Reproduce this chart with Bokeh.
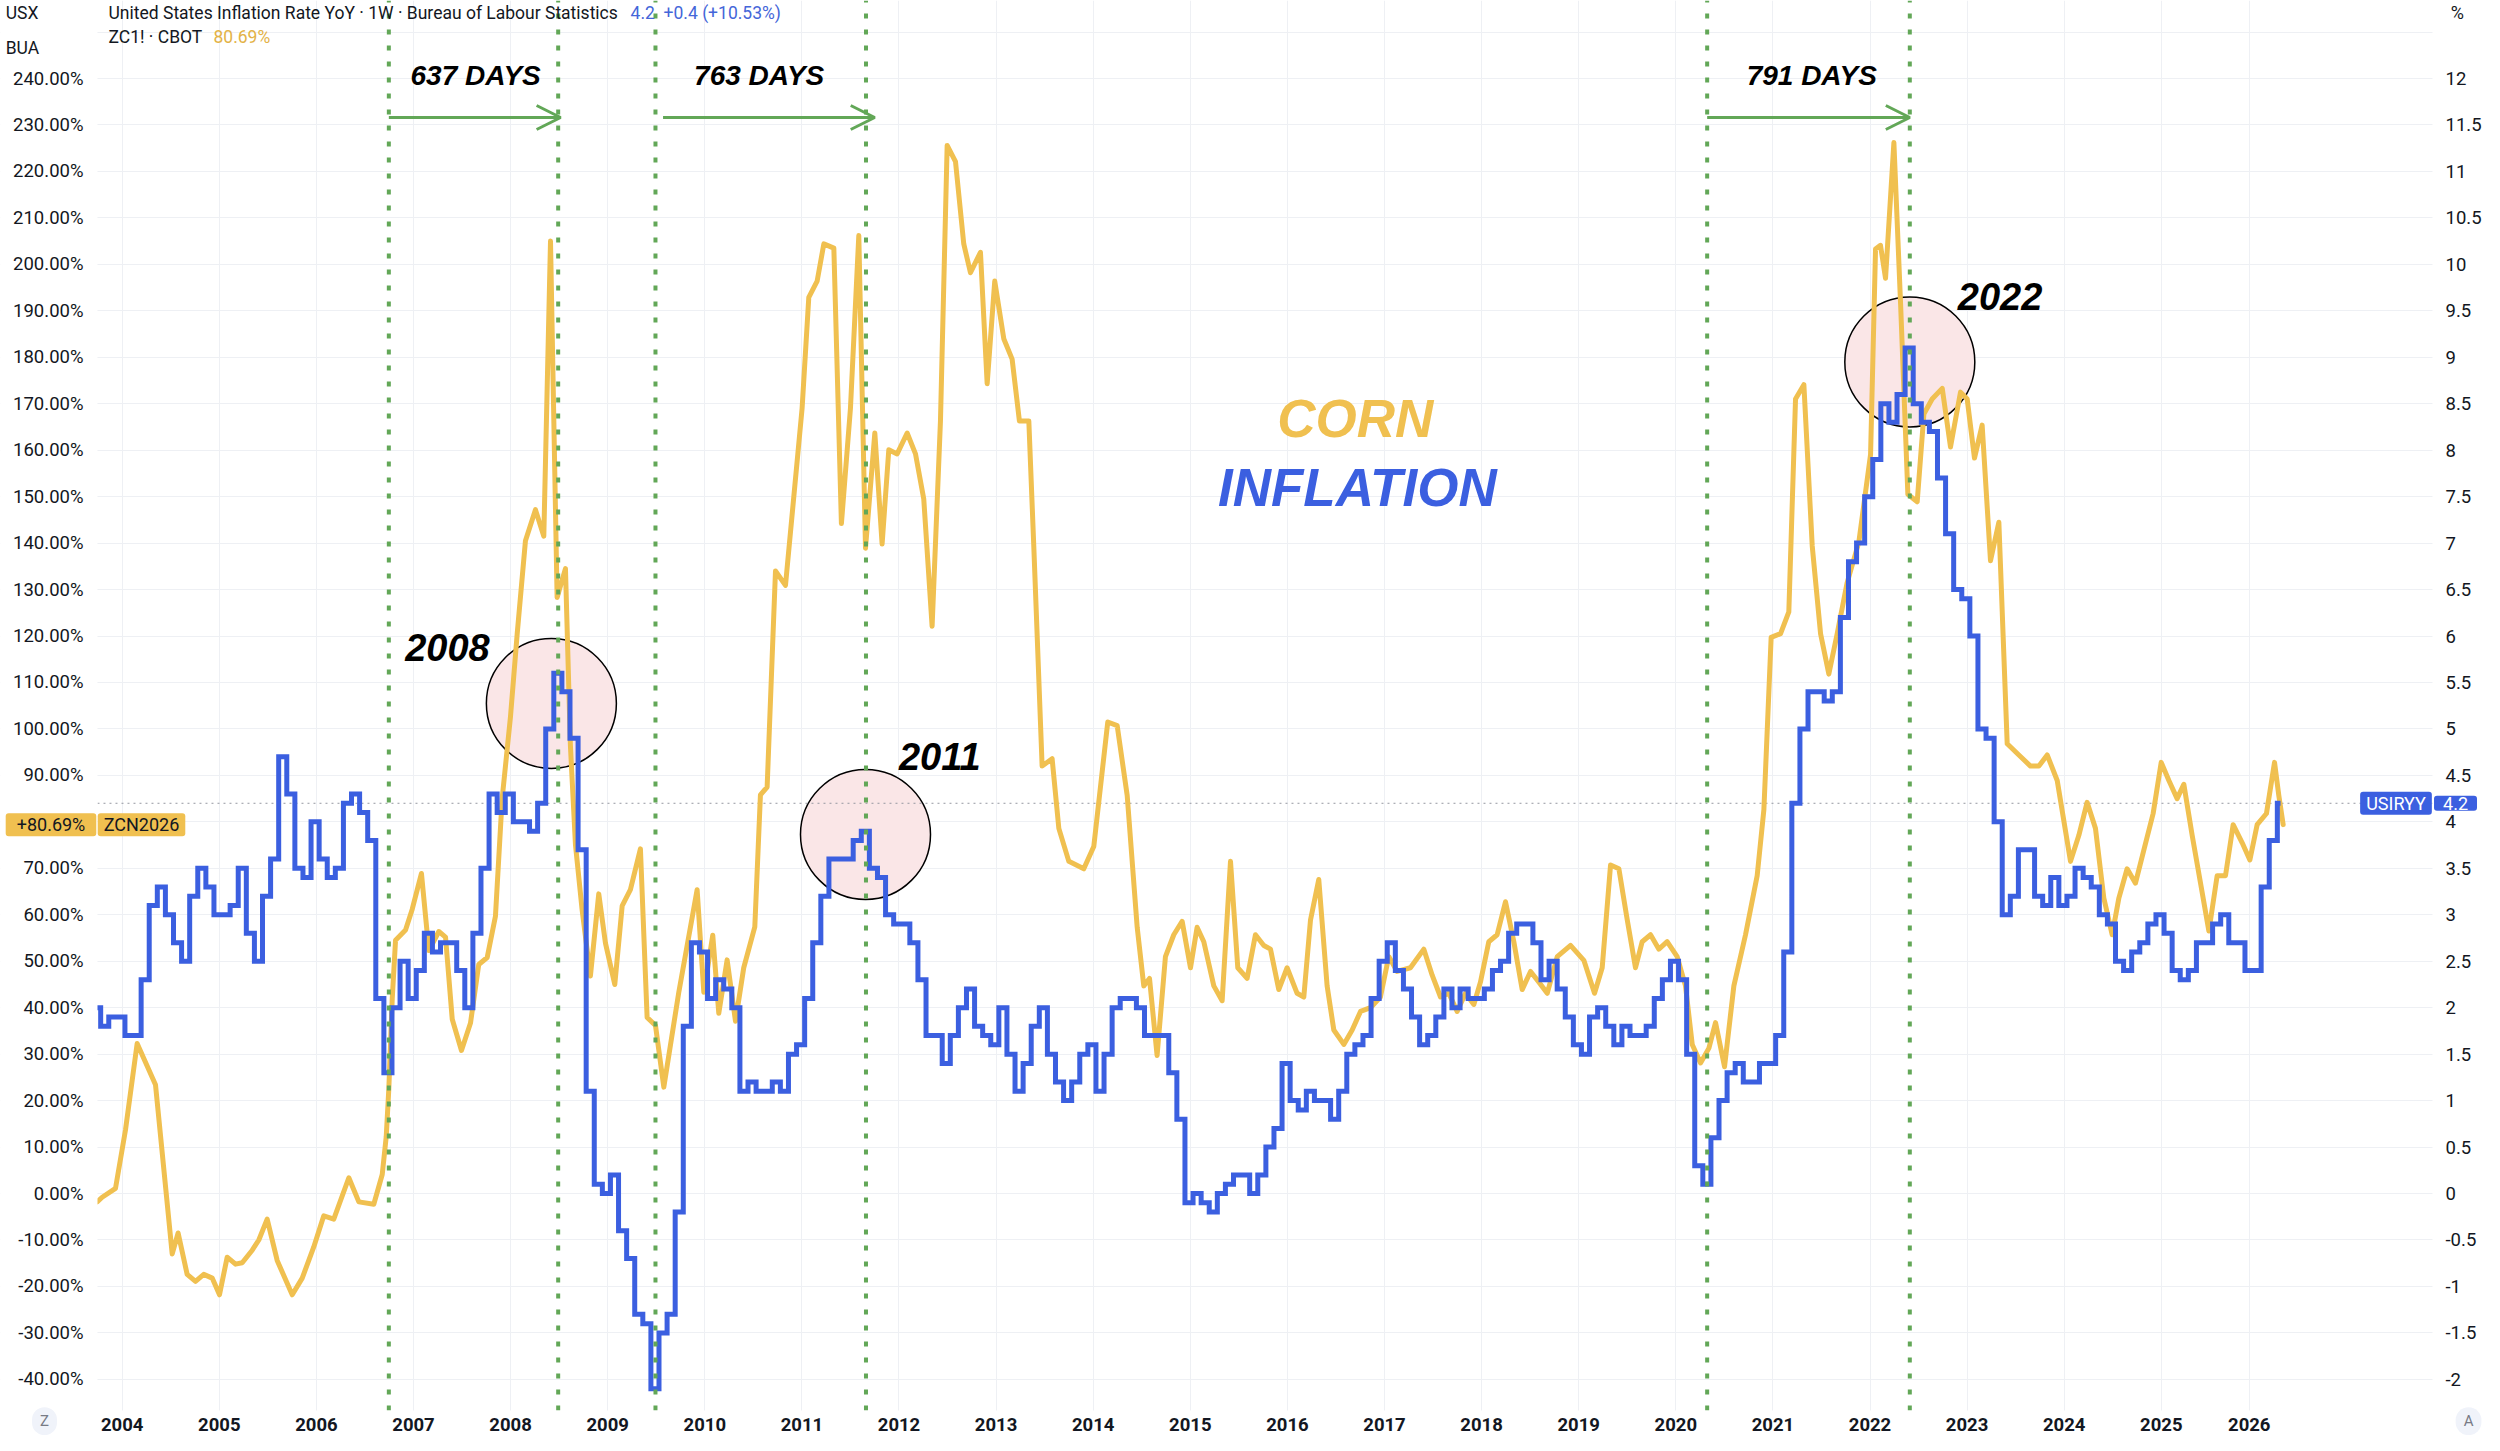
from bokeh.plotting import figure
from bokeh.models import (Range1d, LinearAxis, FixedTicker, CustomJSTickFormatter,
                          Label, Arrow, OpenHead, BoxAnnotation)
from bokeh.embed import file_html
from bokeh.resources import INLINE

# ---------------- data ----------------
# ZC1! (corn) percent change
corn_t = [2003.742, 2003.794, 2003.931, 2004.034, 2004.154, 2004.343, 2004.515, 2004.576, 2004.669, 2004.755,
          2004.840, 2004.927, 2005.002, 2005.081, 2005.167, 2005.236, 2005.339, 2005.407, 2005.493, 2005.596,
          2005.751, 2005.854, 2005.973, 2006.076, 2006.179, 2006.334, 2006.437, 2006.591, 2006.678, 2006.719,
          2006.746, 2006.781, 2006.815, 2006.918, 2006.987, 2007.082, 2007.158, 2007.261, 2007.330, 2007.399,
          2007.494, 2007.587, 2007.672, 2007.759, 2007.844, 2007.913, 2007.999, 2008.068, 2008.153, 2008.256,
          2008.342, 2008.411,
          2008.479, 2008.565, 2008.616, 2008.668, 2008.737, 2008.822, 2008.908, 2008.977, 2009.073, 2009.149,
          2009.234, 2009.337, 2009.406, 2009.492, 2009.578, 2009.732, 2009.921, 2009.990, 2010.082, 2010.144,
          2010.230, 2010.316, 2010.401, 2010.515, 2010.573, 2010.642, 2010.728, 2010.831, 2011.002, 2011.071,
          2011.157, 2011.226, 2011.329, 2011.407, 2011.500, 2011.586, 2011.655, 2011.751, 2011.826, 2011.895,
          2011.981, 2012.084, 2012.170, 2012.255, 2012.341, 2012.427, 2012.496, 2012.582, 2012.667, 2012.736,
          2012.839, 2012.908, 2012.986, 2013.079, 2013.165, 2013.240, 2013.337,
          2013.388, 2013.474, 2013.577, 2013.646, 2013.749, 2013.903, 2014.006, 2014.150, 2014.247, 2014.350,
          2014.453, 2014.521, 2014.580, 2014.658, 2014.744, 2014.830, 2014.916, 2015.002, 2015.070, 2015.139,
          2015.242, 2015.328, 2015.414, 2015.489, 2015.585, 2015.671, 2015.757, 2015.826, 2015.911, 2015.997,
          2016.100, 2016.169, 2016.238, 2016.323, 2016.409, 2016.478, 2016.581, 2016.667, 2016.753, 2016.856,
          2016.958, 2017.044, 2017.130, 2017.267, 2017.405, 2017.491, 2017.577, 2017.662, 2017.748, 2017.834,
          2017.920, 2017.988, 2018.074, 2018.160,
          2018.246, 2018.332, 2018.418, 2018.504, 2018.590, 2018.676, 2018.779, 2018.916, 2019.053, 2019.163,
          2019.242, 2019.328, 2019.414, 2019.500, 2019.585, 2019.654, 2019.740, 2019.826, 2019.911, 2020.014,
          2020.100, 2020.169, 2020.255, 2020.341, 2020.409, 2020.502, 2020.598, 2020.718, 2020.838, 2020.907,
          2020.982, 2021.079, 2021.164, 2021.233, 2021.319, 2021.405, 2021.491, 2021.576, 2021.662, 2021.765,
          2021.885, 2022.006, 2022.057, 2022.108, 2022.160, 2022.246, 2022.315, 2022.390, 2022.486, 2022.555,
          2022.640, 2022.744, 2022.829, 2022.932,
          2023.001, 2023.076, 2023.155, 2023.241, 2023.327, 2023.413, 2023.533, 2023.653, 2023.739, 2023.825,
          2023.928, 2024.065, 2024.151, 2024.236, 2024.322, 2024.408, 2024.494, 2024.563, 2024.648, 2024.734,
          2024.820, 2024.916, 2024.999, 2025.078, 2025.163, 2025.232, 2025.318, 2025.404, 2025.490, 2025.575,
          2025.661, 2025.740, 2025.833, 2025.912, 2025.987, 2026.083, 2026.166, 2026.210, 2026.255]
corn_pct = [-1.8, -0.8, 1.1, 13.7, 32.3, 23.4, -13.0, -8.5, -17.4, -18.9,
            -17.4, -18.2, -21.8, -13.7, -15.2, -14.9, -12.2, -10.0, -5.5, -14.4,
            -21.8, -18.2, -11.5, -4.8, -5.5, 3.4, -1.8, -2.3, 4.1, 12.2,
            22.6, 41.9, 54.5, 56.7, 61.2, 68.9, 52.3, 56.4, 55.2, 37.5,
            30.8, 36.7, 49.3, 50.8, 59.7, 85.0, 102.7, 120.5, 140.5, 147.2,
            141.5, 205.0,
            128.3, 134.5, 96.4, 75.1, 61.0, 46.8, 64.5, 53.9, 45.0, 61.9,
            65.4, 74.2, 37.9, 36.2, 22.9, 43.3, 65.4, 43.3, 55.6, 38.8,
            50.3, 37.1, 48.6, 57.4, 85.8, 87.5, 134.0, 130.9, 169.0, 192.9,
            196.4, 204.4, 203.5, 144.2, 169.0, 206.2, 138.9, 163.7, 139.8, 160.1,
            159.2, 163.7, 159.2, 149.5, 122.1, 166.3, 225.6, 222.1, 204.4, 198.2,
            202.6, 174.3, 196.4, 184.0, 179.6, 166.3, 166.3,
            139.4, 92.0, 93.6, 78.6, 71.5, 69.9, 74.7, 101.5, 100.7, 85.7,
            57.3, 44.7, 46.3, 29.7, 51.0, 55.7, 58.6, 48.6, 57.3, 54.2,
            44.7, 41.5, 71.5, 48.6, 46.3, 55.7, 53.4, 52.6, 43.9, 48.6,
            43.1, 42.3, 58.9, 67.6, 44.7, 35.2, 32.1, 35.2, 39.2, 40.0,
            42.3, 51.0, 47.8, 48.6, 52.6, 47.0, 42.3, 43.1, 39.2, 43.1,
            40.7, 45.5, 54.2, 55.7,
            62.8, 54.2, 43.9, 47.8, 45.5, 43.1, 51.0, 53.4, 50.2, 43.1,
            48.6, 70.7, 69.9, 58.9, 48.6, 54.2, 55.7, 52.6, 54.2, 51.0,
            44.7, 32.1, 28.1, 31.3, 36.8, 27.3, 44.7, 55.7, 68.4, 82.6,
            119.7, 120.5, 125.2, 171.0, 174.1, 139.4, 120.5, 111.8, 120.5, 131.5,
            140.2, 159.1, 203.3, 204.1, 197.0, 226.2, 191.5, 150.5, 148.9, 167.8,
            171.0, 173.3, 160.7, 172.5,
            171.0, 158.3, 165.4, 136.2, 144.5, 96.8, 94.4, 92.0, 92.0, 94.4,
            88.9, 71.5, 77.1, 84.2, 78.6, 63.6, 55.7, 63.6, 69.9, 66.8,
            73.9, 81.8, 92.8, 88.9, 85.0, 88.1, 77.1, 66.8, 56.5, 68.4,
            68.4, 79.4, 75.5, 71.8, 79.4, 81.8, 92.8, 85.7, 79.4]

# United States Inflation Rate YoY (%), monthly from Oct 2003
cpi_first_year = 2003
cpi_first_month = 10
cpi_yoy = [2.0, 1.8, 1.9,
           1.9, 1.7, 1.7, 2.3, 3.1, 3.3, 3.0, 2.7, 2.5, 3.2, 3.5, 3.3,
           3.0, 3.0, 3.1, 3.5, 2.8, 2.5, 3.2, 3.6, 4.7, 4.3, 3.5, 3.4,
           4.0, 3.6, 3.4, 3.5, 4.2, 4.3, 4.1, 3.8, 2.1, 1.3, 2.0, 2.5,
           2.1, 2.4, 2.8, 2.6, 2.7, 2.7, 2.4, 2.0, 2.8, 3.5, 4.3, 4.1,
           4.3, 4.0, 4.0, 3.9, 4.2, 5.0, 5.6, 5.4, 4.9, 3.7, 1.1, 0.1,
           0.0, 0.2, -0.4, -0.7, -1.3, -1.4, -2.1, -1.5, -1.3, -0.2, 1.8, 2.7,
           2.6, 2.1, 2.3, 2.2, 2.0, 1.1, 1.2, 1.1, 1.1, 1.2, 1.1, 1.5,
           1.6, 2.1, 2.7, 3.2, 3.6, 3.6, 3.6, 3.8, 3.9, 3.5, 3.4, 3.0,
           2.9, 2.9, 2.7, 2.3, 1.7, 1.7, 1.4, 1.7, 2.0, 2.2, 1.8, 1.7,
           1.6, 2.0, 1.5, 1.1, 1.4, 1.8, 2.0, 1.5, 1.2, 1.0, 1.2, 1.5,
           1.6, 1.1, 1.5, 2.0, 2.1, 2.1, 2.0, 1.7, 1.7, 1.7, 1.3, 0.8,
           -0.1, 0.0, -0.1, -0.2, 0.0, 0.1, 0.2, 0.2, 0.0, 0.2, 0.5, 0.7,
           1.4, 1.0, 0.9, 1.1, 1.0, 1.0, 0.8, 1.1, 1.5, 1.6, 1.7, 2.1,
           2.5, 2.7, 2.4, 2.2, 1.9, 1.6, 1.7, 1.9, 2.2, 2.0, 2.2, 2.1,
           2.1, 2.2, 2.4, 2.5, 2.8, 2.9, 2.9, 2.7, 2.3, 2.5, 2.2, 1.9,
           1.6, 1.5, 1.9, 2.0, 1.8, 1.6, 1.8, 1.7, 1.7, 1.8, 2.1, 2.3,
           2.5, 2.3, 1.5, 0.3, 0.1, 0.6, 1.0, 1.3, 1.4, 1.2, 1.2, 1.4,
           1.4, 1.7, 2.6, 4.2, 5.0, 5.4, 5.4, 5.3, 5.4, 6.2, 6.8, 7.0,
           7.5, 7.9, 8.5, 8.3, 8.6, 9.1, 8.5, 8.3, 8.2, 7.7, 7.1, 6.5,
           6.4, 6.0, 5.0, 4.9, 4.0, 3.0, 3.2, 3.7, 3.7, 3.2, 3.1, 3.4,
           3.1, 3.2, 3.5, 3.4, 3.3, 3.0, 2.9, 2.5, 2.4, 2.6, 2.7, 2.9,
           3.0, 2.8, 2.4, 2.3, 2.4, 2.7, 2.7, 2.9, 3.0, 2.7, 2.7, 2.4,
           2.4, 3.3, 3.8, 4.2]
cpi_bar_shift = 0.055          # weekly bars start about 3 weeks before the month
cpi_last_t = 2026.228

year_tick_pos = [2004, 2005, 2006, 2007, 2008, 2009, 2010, 2011, 2012, 2013, 2014, 2015,
                 2016, 2017, 2018, 2019, 2020, 2021, 2022, 2023, 2024, 2025, 2025.906]
year_tick_lbl = ["2004", "2005", "2006", "2007", "2008", "2009", "2010", "2011", "2012", "2013",
                 "2014", "2015", "2016", "2017", "2018", "2019", "2020", "2021", "2022", "2023",
                 "2024", "2025", "2026"]
left_ticks = list(range(-40, 251, 10))
right_ticks = [-2 + 0.5 * i for i in range(30)]

event_lines = [2006.746, 2008.49, 2009.492, 2011.66, 2020.323, 2022.41]
gap_start = [2006.746, 2009.57, 2020.323]
gap_end = [2008.515, 2011.75, 2022.41]
gap_text = ["637 DAYS", "763 DAYS", "791 DAYS"]
gap_text_x = [2007.64, 2010.56, 2021.40]

peak_t = [2008.42, 2011.655, 2022.41]
peak_pct = [105.5, 77.3, 179.0]
peak_lbl = ["2008", "2011", "2022"]
peak_lbl_x = [2007.35, 2012.42, 2023.34]
peak_lbl_y = [117.5, 94.0, 193.0]

corn_last_label = "+80.69%"
cpi_last_label = "4.2"

# ---------------- layout ----------------
GOLD = "#f0c050"
BLUE = "#3b5fe0"
GREEN = "#62a757"
TXT = "#131722"
GRID = "#eef0f4"
FONT = "Roboto"
AFONT = "Liberation Sans"

W, H = 2484, 1435
# canvas covers the whole picture; data area: x in [XL, XR], y in [YB, top]
X0, X1 = 2002.7467, 2028.3285
Y0, Y1 = -52.08, 256.79
XL, XR = 2003.7456, 2027.793
YB = -46.7

p = figure(width=W, height=H, x_range=Range1d(X0, X1), y_range=Range1d(Y0, Y1),
           output_backend="svg", toolbar_location=None, min_border=0,
           min_border_left=0, min_border_right=0, min_border_top=0, min_border_bottom=0)
p.outline_line_color = None
p.background_fill_color = "white"
p.extra_y_ranges = {"r": Range1d(Y0 / 20.0, Y1 / 20.0)}

ya = p.yaxis[0]
ya.fixed_location = XL
ya.ticker = FixedTicker(ticks=left_ticks)
ya.formatter = CustomJSTickFormatter(code="return tick > 245 ? '' : tick.toFixed(2) + '%';")
ra = LinearAxis(y_range_name="r", fixed_location=XR, ticker=FixedTicker(ticks=right_ticks),
                formatter=CustomJSTickFormatter(code="return tick > 12.25 ? '' : String(Math.round(tick*10)/10);"))
p.add_layout(ra, "right")
xa = p.xaxis[0]
xa.fixed_location = YB
xa.ticker = FixedTicker(ticks=year_tick_pos)
xa.formatter = CustomJSTickFormatter(args=dict(pos=year_tick_pos, lbl=year_tick_lbl), code="""
for (let i = 0; i < pos.length; i++) { if (Math.abs(pos[i] - tick) < 1e-6) return lbl[i]; }
return '';""")

for ax in (ya, ra, xa):
    ax.axis_line_color = None
    ax.major_tick_line_color = None
    ax.minor_tick_line_color = None
    ax.major_tick_out = 0
    ax.major_tick_in = 0
    ax.minor_tick_out = 0
    ax.minor_tick_in = 0
    ax.major_label_text_font = FONT
    ax.major_label_text_font_size = "18.5px"
    ax.major_label_text_color = TXT
ya.major_label_standoff = 14
ra.major_label_standoff = 13
xa.major_label_standoff = 7
xa.major_label_text_font_size = "18.5px"
xa.major_label_text_font_style = "bold"

p.xgrid.grid_line_color = GRID
p.ygrid.grid_line_color = GRID

# keep the grid inside the data area
for kw in (dict(left=X0, right=XL), dict(left=XR, right=X1), dict(top=YB)):
    p.add_layout(BoxAnnotation(fill_color="white", fill_alpha=1.0, line_color=None, level="glyph", **kw))

# highlight circles (under the lines)
p.scatter(peak_t, peak_pct, marker="circle", size=130, fill_color="#fae6e7", fill_alpha=1.0,
          line_color="black", line_width=1.5)

# price line of the last inflation value
p.segment(x0=[XL], y0=[cpi_yoy[-1] * 20], x1=[XR], y1=[cpi_yoy[-1] * 20],
          line_color="#9598a1", line_dash="2 4", line_width=1)

# corn line
p.line(corn_t, corn_pct, line_color=GOLD, line_width=5, line_join="round", line_cap="round")

# inflation step line (right scale)
cpi_t = [cpi_first_year + (cpi_first_month - 1 + i) / 12.0 - cpi_bar_shift for i in range(len(cpi_yoy))]
p.step(cpi_t + [cpi_last_t], cpi_yoy + [cpi_yoy[-1]], mode="after", y_range_name="r",
       line_color=BLUE, line_width=5, line_join="miter")

# dotted event lines
p.segment(x0=event_lines, y0=[YB] * len(event_lines), x1=event_lines, y1=[Y1] * len(event_lines),
          line_color=GREEN, line_dash="5 11", line_width=4)

# arrows and day counts
for xs, xe, txt, tx in zip(gap_start, gap_end, gap_text, gap_text_x):
    p.add_layout(Arrow(x_start=xs, y_start=231.6, x_end=xe, y_end=231.6, line_color=GREEN, line_width=3,
                       end=OpenHead(size=24, line_color=GREEN, line_width=3)))
    p.add_layout(Label(x=tx, y=240.6, text=txt, text_font=AFONT, text_font_size="28px",
                       text_font_style="bold italic", text_color="black", text_align="center",
                       text_baseline="middle"))

for lx, ly, txt in zip(peak_lbl_x, peak_lbl_y, peak_lbl):
    p.add_layout(Label(x=lx, y=ly, text=txt, text_font=AFONT, text_font_size="38px",
                       text_font_style="bold italic", text_color="black", text_align="center",
                       text_baseline="middle"))

p.add_layout(Label(x=2016.70, y=166.9, text="CORN", text_font=AFONT, text_font_size="53px",
                   text_font_style="bold italic", text_color=GOLD, text_align="center", text_baseline="middle"))
p.add_layout(Label(x=2016.72, y=151.9, text="INFLATION", text_font=AFONT, text_font_size="53px",
                   text_font_style="bold italic", text_color=BLUE, text_align="center", text_baseline="middle"))


def lab(x, y, text, color=TXT, size="17.5px", align="left", **kw):
    p.add_layout(Label(x=x, y=y, text=text, text_font=FONT, text_font_size=size, text_color=color,
                       text_align=align, text_baseline="middle", level="overlay", **kw))


# header
lab(2002.80, 254.1, "USX")
lab(2002.80, 246.56, "BUA")
lab(2003.859, 254.1, "United States Inflation Rate YoY · 1W · Bureau of Labour Statistics")
lab(2009.236, 254.1, "4.2\u00a0\u00a0+0.4 (+10.53%)", color="#4466d9")
lab(2003.859, 249.04, "ZC1! · CBOT")
lab(2004.94, 249.04, "80.69%", color="#e3b246")
lab(2028.05, 254.1, "%", align="center", size="18px")
lab(2003.20, -49.0, "Z", color="#787b86", size="15px", align="center",
    background_fill_color="#f0f3fa", padding=(8, 5), border_radius=14)
lab(2028.164, -49.0, "A", color="#787b86", size="15px", align="center",
    background_fill_color="#f0f3fa", padding=(8, 5), border_radius=14)

# last value tags  (padding = (horizontal, vertical))
lab(2003.2667, corn_pct[-1], corn_last_label, size="18px", align="center",
    background_fill_color=GOLD, padding=(11, 1), border_radius=3)
lab(2004.1988, corn_pct[-1], "ZCN2026", size="18px", align="center",
    background_fill_color=GOLD, padding=(6, 1), border_radius=3)
lab(2027.417, cpi_yoy[-1] * 20, "USIRYY", color="white", size="18px", align="center",
    background_fill_color=BLUE, padding=(6, 1), border_radius=3)
lab(2028.03, cpi_yoy[-1] * 20, cpi_last_label, color="white", size="18px", align="center",
    background_fill_color=BLUE, padding=(9, 1), border_radius=3)

open("out.html", "w").write(file_html(p, INLINE))
